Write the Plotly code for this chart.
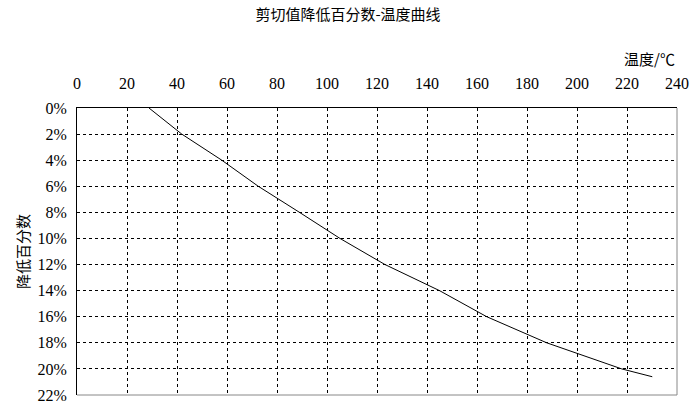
import plotly.graph_objects as go

temps = [28.8, 41.9, 57.9, 72.5, 89.0, 105.2, 123.2, 145.0, 163.9, 187.9, 217.9, 230.1]
reduction_pct = [0, 2, 4, 6, 8, 10, 12, 14, 16, 18, 20, 20.6]
x_ticks = list(range(0, 241, 20))
y_ticks = list(range(0, 23, 2))
y_tick_text = [f"{v}%" for v in y_ticks]

FONT = "Liberation Serif, serif"
CJK = "Noto Sans CJK SC"

fig = go.Figure()
fig.add_trace(go.Scatter(x=temps, y=reduction_pct, mode="lines",
                         line=dict(color="black", width=1), showlegend=False))

fig.update_layout(
    width=696, height=407,
    margin=dict(l=77, r=19, t=108, b=12),
    plot_bgcolor="white", paper_bgcolor="white",
    title=dict(text="剪切值降低百分数-温度曲线", x=0.5, xanchor="center",
               y=1 - 15 / 407, yanchor="middle", yref="container",
               font=dict(family=CJK, size=15, color="black")),
    xaxis=dict(side="top", range=[0, 240], tickvals=x_ticks, automargin=False,
               showgrid=True, gridcolor="black", gridwidth=1, griddash="3px,3px",
               showline=True, linecolor="black", linewidth=1,
               ticks="", ticklabelstandoff=12, zeroline=False,
               tickfont=dict(family=FONT, size=16, color="black")),
    yaxis=dict(range=[22, 0], tickvals=y_ticks, ticktext=y_tick_text, automargin=False,
               showgrid=True, gridcolor="black", gridwidth=1, griddash="3px,3px",
               showline=True, linecolor="black", linewidth=1,
               ticks="", ticklabelstandoff=6, zeroline=False,
               tickfont=dict(family=FONT, size=16, color="black"),
               title=dict(text="降低百分数", standoff=4,
                          font=dict(family=CJK, size=15, color="black"))),
)

fig.add_annotation(text="温度/℃", xref="paper", yref="paper", x=1.0, y=(395 - 58) / 287,
                   xanchor="right", yanchor="middle", showarrow=False,
                   font=dict(family=CJK, size=15, color="black"))

# gray right and bottom frame
fig.add_shape(type="line", xref="paper", yref="paper", x0=1, x1=1, y0=0, y1=1,
              line=dict(color="#888888", width=1))
fig.add_shape(type="line", xref="paper", yref="paper", x0=0, x1=1, y0=0, y1=0,
              line=dict(color="#888888", width=1))

fig.write_html("out.html")
